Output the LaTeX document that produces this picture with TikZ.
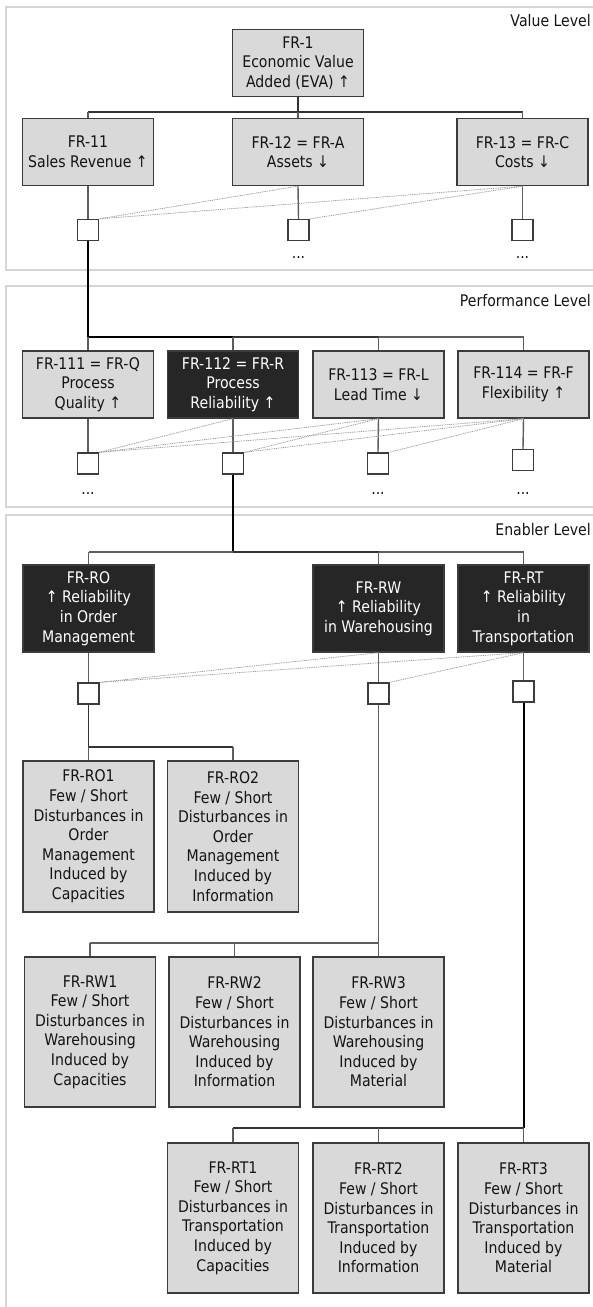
\documentclass[tikz,border=0pt]{standalone}
\usepackage{fontspec}
\setmainfont{DejaVu Sans}[FakeStretch=0.88]
\usetikzlibrary{calc}
\definecolor{boxfill}{HTML}{D9D9D9}
\definecolor{boxborder}{HTML}{3C3C3C}
\definecolor{darkfill}{HTML}{262626}
\definecolor{txt}{HTML}{141414}
\definecolor{panelgray}{HTML}{D5D5D5}
\definecolor{linegray}{HTML}{5E5E5E}
\definecolor{linemid}{HTML}{333333}
\definecolor{dotgray}{HTML}{9C9C9C}
\newcommand\fs{\fontsize{16}{19.6}\selectfont}
\tikzset{
  box/.style={draw=boxborder, line width=1.3pt, fill=boxfill, text=txt, minimum width=131pt, align=center, inner sep=0pt, font=\fs},
  darkbox/.style={box, fill=darkfill, text=white},
  sqbox/.style={draw=boxborder, line width=1.3pt, fill=white, minimum width=21pt, minimum height=21pt, inner sep=0pt},
  dotln/.style={draw=dotgray, line width=0.8pt, dash pattern=on 1pt off 0.8pt},
  conthick/.style={draw=black, line width=2pt},
  conmid/.style={draw=linemid, line width=1.6pt},
  conthin/.style={draw=linegray, line width=1.4pt},
  panel/.style={draw=panelgray, line width=2pt},
  lvl/.style={font=\fs, text=txt, inner sep=0pt, anchor=east},
  ellip/.style={font=\fs, text=txt, inner sep=0pt}
}
\begin{document}
\begin{tikzpicture}[x=1pt,y=-1pt]
\useasboundingbox (0,0) rectangle (593,1307);
% panels
\draw[panel] (6,7) rectangle (610,270);
\draw[panel] (6,286) rectangle (610,507);
\draw[panel] (6,515) rectangle (610,1330);
\node[lvl] (lv1) at (591,21) {Value Level};
\node[lvl] (lv2) at (591,301) {Performance Level};
\node[lvl] (lv3) at (591,530) {Enabler Level};

% value level
\node[box, minimum height=67pt] (fr1) at (298,63) {FR-1\\Economic Value\\Added (EVA) ↑};
\node[box, minimum height=67pt] (fr11) at (88,152) {FR-11\\Sales Revenue ↑};
\node[box, minimum height=67pt] (fr12) at (298,152) {FR-12 = FR-A\\Assets ↓};
\node[box, minimum height=67pt] (fr13) at (522.5,152) {FR-13 = FR-C\\Costs ↓};
\coordinate (vbus) at (0,112);
\draw[conmid] (fr1.south) -- (fr1.south |- vbus);
\draw[conmid] (fr11.north |- vbus) -- (fr13.north |- vbus);
\foreach \n in {fr11,fr12,fr13} \draw[conthin] (\n.north |- vbus) -- (\n.north);
\node[sqbox] (s11) at (88,230) {};
\node[sqbox] (s12) at (298.5,230) {};
\node[sqbox] (s13) at (522.5,230) {};
\draw[conthin] (fr11.south) -- (s11.north);
\draw[conthin] (fr12.south) -- (s12.north);
\draw[conthin] (fr13.south) -- (s13.north);
\draw[dotln] (fr12.south) -- (s11.north east);
\draw[dotln] (fr13.south) -- (s11.north east);
\draw[dotln] (fr13.south) -- (s12.north east);
\node[ellip] (d12) at (298.5,258) {...};
\node[ellip] (d13) at (522.5,258) {...};

% performance level
\node[box, minimum height=67pt] (p1) at (88,384.5) {FR-111 = FR-Q\\Process\\Quality ↑};
\node[darkbox, minimum height=67pt] (p2) at (233,384.5) {FR-112 = FR-R\\Process\\Reliability ↑};
\node[box, minimum height=67pt] (p3) at (378.5,384.5) {FR-113 = FR-L\\Lead Time ↓};
\node[box, minimum height=67pt] (p4) at (523.5,384.5) {FR-114 = FR-F\\Flexibility ↑};
\coordinate (pbus) at (0,337);
\draw[conthick] (s11.south) -- (s11.south |- pbus) -- (p2.north |- pbus);
\draw[conmid] (p2.north |- pbus) -- (p3.north |- pbus);
\draw[conthin] (p3.north |- pbus) -- (p4.north |- pbus);
\foreach \n in {p1,p2,p3,p4} \draw[conthin] (\n.north |- pbus) -- (\n.north);
\node[sqbox] (sp1) at (88,463.5) {};
\node[sqbox] (sp2) at (233,463.5) {};
\node[sqbox] (sp3) at (378,463.5) {};
\node[sqbox] (sp4) at (523,460) {};
\draw[conthin] (p1.south) -- (sp1.north);
\draw[conthin] (p2.south) -- (sp2.north);
\draw[conthin] (p3.south) -- (sp3.north);
\draw[conthin] (p4.south) -- (sp4.north);
\draw[dotln] (p2.south) -- (sp1.north east);
\draw[dotln] (p3.south) -- (sp1.north east);
\draw[dotln] (p3.south) -- (sp2.north east);
\draw[dotln] (p4.south) -- (sp1.north east);
\draw[dotln] (p4.south) -- (sp2.north east);
\draw[dotln] (p4.south) -- (sp3.north east);
\node[ellip] (dp1) at (88,493) {...};
\node[ellip] (dp3) at (378,493) {...};
\node[ellip] (dp4) at (523,493) {...};

% enabler level
\node[darkbox, minimum height=87pt] (e1) at (88.5,608.5) {FR-RO\\↑ Reliability\\in Order\\Management};
\node[darkbox, minimum height=87pt] (e2) at (378.5,608.5) {FR-RW\\↑ Reliability\\in Warehousing};
\node[darkbox, minimum height=87pt] (e3) at (523.5,608.5) {FR-RT\\↑ Reliability\\in\\Transportation};
\coordinate (ebus) at (0,552);
\draw[conthick] (sp2.south) -- (sp2.south |- ebus);
\draw[conmid] (sp2.south |- ebus) -- (e2.north |- ebus);
\draw[conthin] (sp2.south |- ebus) -- (e1.north |- ebus);
\draw[conthin] (e2.north |- ebus) -- (e3.north |- ebus);
\foreach \n in {e1,e2,e3} \draw[conthin] (\n.north |- ebus) -- (\n.north);
\node[sqbox] (se1) at (88.5,693.5) {};
\node[sqbox] (se2) at (378.5,693.5) {};
\node[sqbox] (se3) at (523.5,691.5) {};
\draw[conthin] (e1.south) -- (se1.north);
\draw[conthin] (e2.south) -- (se2.north);
\draw[conthin] (e3.south) -- (se3.north);
\draw[dotln] (e2.south) -- (se1.north east);
\draw[dotln] (e3.south) -- (se1.north east);
\draw[dotln] (e3.south) -- (se2.north east);

% RO children
\node[box, minimum height=151pt] (ro1) at (88.5,836.5) {FR-RO1\\Few / Short\\Disturbances in\\Order\\Management\\Induced by\\Capacities};
\node[box, minimum height=151pt] (ro2) at (233,836.5) {FR-RO2\\Few / Short\\Disturbances in\\Order\\Management\\Induced by\\Information};
\coordinate (robus) at (0,747);
\draw[conmid] (se1.south) -- (se1.south |- robus) -- (ro2.north |- robus);
\foreach \n in {ro1,ro2} \draw[conthin] (\n.north |- robus) -- (\n.north);

% RW children
\node[box, minimum height=150pt] (rw1) at (90,1032) {FR-RW1\\Few / Short\\Disturbances in\\Warehousing\\Induced by\\Capacities};
\node[box, minimum height=150pt] (rw2) at (234.5,1032) {FR-RW2\\Few / Short\\Disturbances in\\Warehousing\\Induced by\\Information};
\node[box, minimum height=150pt] (rw3) at (378.5,1032) {FR-RW3\\Few / Short\\Disturbances in\\Warehousing\\Induced by\\Material};
\coordinate (rwbus) at (0,943);
\draw[conthin] (se2.south) -- (se2.south |- rwbus) -- (rw1.north |- rwbus);
\foreach \n in {rw1,rw2,rw3} \draw[conthin] (\n.north |- rwbus) -- (\n.north);

% RT children
\node[box, minimum height=150pt] (rt1) at (233,1218) {FR-RT1\\Few / Short\\Disturbances in\\Transportation\\Induced by\\Capacities};
\node[box, minimum height=150pt] (rt2) at (378.5,1218) {FR-RT2\\Few / Short\\Disturbances in\\Transportation\\Induced by\\Information};
\node[box, minimum height=150pt] (rt3) at (523.5,1218) {FR-RT3\\Few / Short\\Disturbances in\\Transportation\\Induced by\\Material};
\coordinate (rtbus) at (0,1128);
\draw[conthick] (se3.south) -- (se3.south |- rtbus);
\draw[conmid] (se3.south |- rtbus) -- (rt1.north |- rtbus);
\foreach \n in {rt1,rt2,rt3} \draw[conthin] (\n.north |- rtbus) -- (\n.north);
\end{tikzpicture}
\end{document}
